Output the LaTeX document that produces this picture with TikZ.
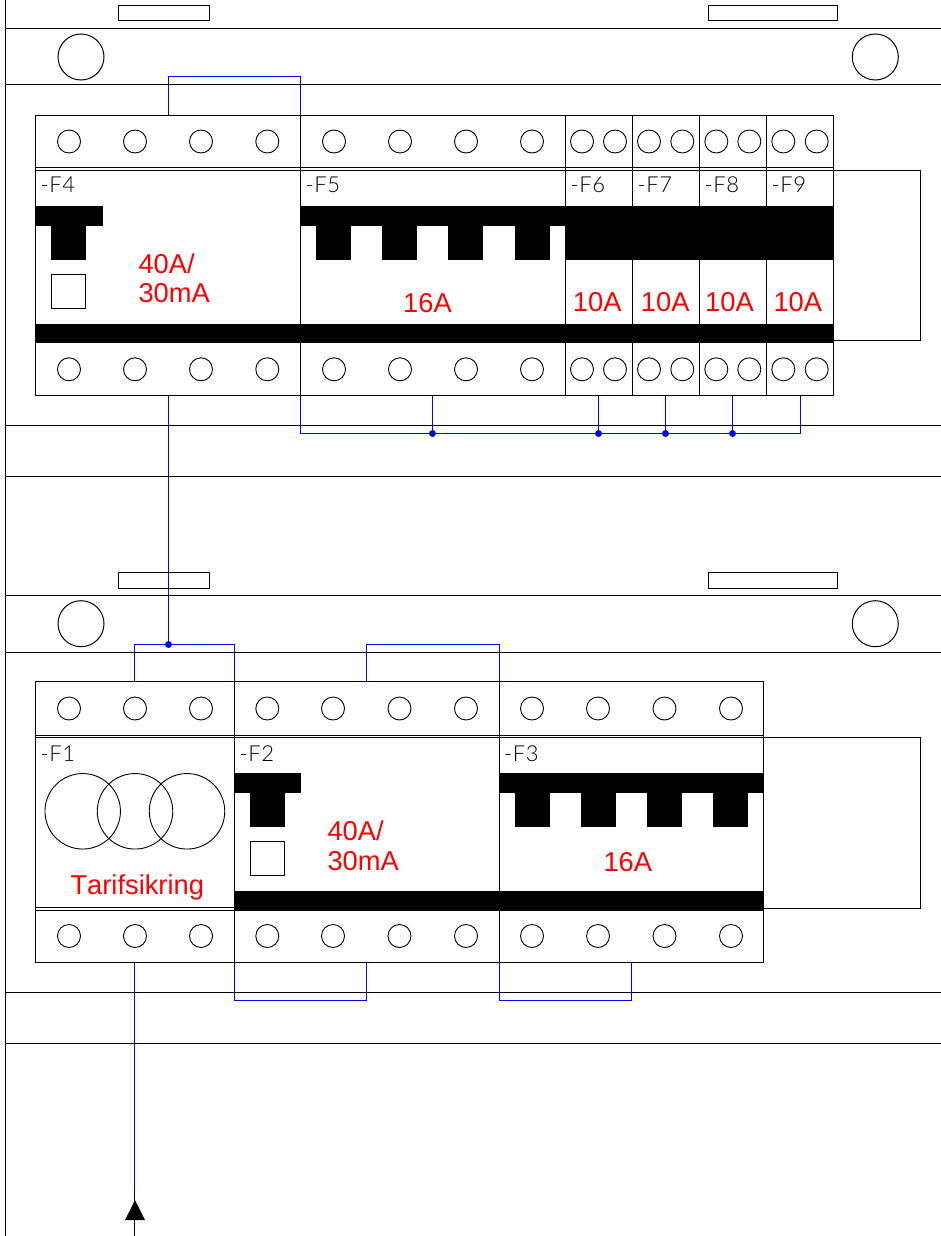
\documentclass[tikz,border=0pt]{standalone}
\usepackage{fontspec}
\setmainfont[Kerning=Off]{Liberation Sans}
\newfontfamily\cadfont[UprightFont=* Light,LetterSpace=3]{Lato}
\begin{document}
\begin{tikzpicture}[x=1pt,y=-1pt,line width=1pt,
  rail/.style={draw=black,line width=1pt},
  term/.style={draw=black,line width=0.9pt,circle,inner sep=0pt,minimum size=23pt},
  big/.style={draw=black,line width=1pt,circle,inner sep=0pt,minimum size=46pt},
  ring/.style={draw=black,line width=0.9pt,circle,inner sep=0pt,minimum size=75.5pt},
  wire/.style={draw=blue,line width=1pt},
  jun/.style={fill=blue,draw=none,circle,inner sep=0pt,minimum size=7pt},
  redt/.style={text=red,font=\fontsize{27.3}{27.3}\selectfont,anchor=base west,inner sep=0pt},
  tag/.style={text=black,font=\fontsize{22}{22}\cadfont,anchor=base west,inner sep=0pt},
  module/.style={draw=black,line width=1pt,fill=none}]
\useasboundingbox (0,0) rectangle (941,1236);
\fill[white] (0,0) rectangle (941,1236);
% cabinet
\draw[rail] (5.5,-2) -- (5.5,1238);
\foreach \y in {28.5,84.5,425.5,476.5,595.5,652.5,992.5,1043.5} \draw[rail] (5.5,\y) -- (943,\y);
\foreach \y/\z in {5.5/21,572.5/588} {
  \draw[module] (118.5,\y) rectangle (209.5,\z);
  \draw[module] (708.5,\y) rectangle (837.5,\z);
}
\foreach \y/\n in {57/a,623.7/b} {
  \node[big] (bigL\n) at (81,\y) {};
  \node[big] (bigR\n) at (875.3,\y) {};
}
% ---------- upper row: black parts
\fill (35.5,205.7) rectangle (102.7,225.7);
\fill (51,225) rectangle (86,260);
\fill (35.5,323.5) rectangle (834,342.7);
\fill (300.5,205.7) rectangle (566,225.7);
\foreach \x in {316,382,448,515} \fill (\x,225) rectangle (\x+35,260);
\fill (565,205.7) rectangle (834,260);
\draw[module] (51.5,274) rectangle (85.5,308);
% frames
\draw[module] (35.5,115.5) rectangle (833.5,395.5);
\foreach \x in {565.5,632.5,699.5,766.5} {
  \draw[rail,line width=1.3pt] (\x,115.5) -- (\x,205.7);
  \draw[rail,line width=1.3pt] (\x,260) -- (\x,395.5);
}
\draw[rail] (300.5,115.5) -- (300.5,395.5);
\draw[rail] (35.5,167.5) -- (833.5,167.5);
\draw[rail] (35.5,170.5) -- (833.5,170.5);
\draw[module] (833.5,170.5) -- (920.5,170.5) -- (920.5,340.5) -- (833.5,340.5);
\foreach \x/\n in {69/a,135/b,201/c,267.3/d,334/e,400/f,466/g,532/h,582/i,615/j,649/k,682.3/l,716.3/m,749.3/n,783.3/o,816.7/p} {
  \node[term] (ut\n) at (\x,141.5) {};
  \node[term] (ub\n) at (\x,369.3) {};
}
% ---------- lower row: black parts
\fill (234.5,773) rectangle (301,792.5);
\fill (250,792) rectangle (285,827);
\fill (234.5,890.7) rectangle (764,910);
\fill (499.5,773) rectangle (764,792.5);
\foreach \x in {515,581,647,713} \fill (\x,792) rectangle (\x+35,827);
\draw[module] (250,841) rectangle (284.5,875.5);
\draw[module] (35.5,681.5) rectangle (763.5,962.5);
\draw[rail] (234.5,681.5) -- (234.5,962.5);
\draw[rail] (499.5,681.5) -- (499.5,962.5);
\draw[rail] (35.5,735.5) -- (763.5,735.5);
\draw[rail] (35.5,737.5) -- (763.5,737.5);
\draw[rail] (35.5,907.5) -- (234.5,907.5);
\draw[rail] (35.5,910.5) -- (763.5,910.5);
\draw[module] (763.5,737.5) -- (920.5,737.5) -- (920.5,908) -- (763.5,908);
\foreach \x/\n in {69/a,135/b,201/c,267.3/d,333/e,399.5/f,466/g,532/h,598/i,664.5/j,731/k} {
  \node[term] (lt\n) at (\x,708.5) {};
  \node[term] (lb\n) at (\x,936) {};
}
\node[ring] (r1) at (82.7,811.3) {};
\node[ring] (r2) at (135,811.3) {};
\node[ring] (r3) at (187,811.3) {};
% ---------- texts
\node[tag] (tF4) at (40,192.7) {-F4};
\node[tag] (tF5) at (305,192.7) {-F5};
\node[tag] (tF6) at (570,192.7) {-F6};
\node[tag] (tF7) at (637,192.7) {-F7};
\node[tag] (tF8) at (704,192.7) {-F8};
\node[tag] (tF9) at (771,192.7) {-F9};
\node[tag] (tF1) at (40,761) {-F1};
\node[tag] (tF2) at (239,761) {-F2};
\node[tag] (tF3) at (503.5,761) {-F3};
\node[redt] (a1) at (138,273.3) {40A/};
\node[redt] (a2) at (138,302.7) {30mA};
\node[redt] (a3) at (402.7,312) {16A};
\node[redt] (a4) at (572.4,311.7) {10A};
\node[redt] (a5) at (640.4,311.7) {10A};
\node[redt] (a6) at (704.7,311.7) {10A};
\node[redt] (a7) at (773,311.7) {10A};
\node[redt] (a8) at (70,894.3) {Tarifsikring};
\node[redt] (a9) at (327,840.5) {40A/};
\node[redt] (a10) at (327,870) {30mA};
\node[redt] (a11) at (603,871) {16A};
% ---------- blue wiring
\coordinate (w1a) at (168.5,115.5); \coordinate (w1b) at (168.5,76.5);
\coordinate (w1c) at (300.5,76.5); \coordinate (w1d) at (300.5,115.5);
\draw[wire] (w1a) -- (w1b) -- (w1c) -- (w1d);
\coordinate (w2a) at (168.5,395.5); \node[jun] (j0) at (168.5,644.5) {};
\draw[wire] (w2a) -- (j0.center);
\coordinate (w3a) at (134.5,681.5); \coordinate (w3b) at (134.5,644.5);
\coordinate (w3c) at (234.5,644.5); \coordinate (w3d) at (234.5,681.5);
\draw[wire] (w3a) -- (w3b) -- (w3c) -- (w3d);
\coordinate (w4a) at (300.5,395.5); \coordinate (w4b) at (300.5,433.5);
\coordinate (w4c) at (800.5,433.5); \coordinate (w4d) at (800.5,395.5);
\draw[wire] (w4a) -- (w4b) -- (w4c) -- (w4d);
\foreach \x/\n in {432.5/1,598.5/2,665.5/3,732.5/4} {
  \coordinate (s\n) at (\x,395.5);
  \node[jun] (j\n) at (\x,433.5) {};
  \draw[wire] (s\n) -- (j\n.center);
}
\coordinate (w5a) at (366.5,681.5); \coordinate (w5b) at (366.5,644.5);
\coordinate (w5c) at (499.5,644.5); \coordinate (w5d) at (499.5,681.5);
\draw[wire] (w5a) -- (w5b) -- (w5c) -- (w5d);
\coordinate (w6a) at (234.5,962.5); \coordinate (w6b) at (234.5,1000.5);
\coordinate (w6c) at (366.5,1000.5); \coordinate (w6d) at (366.5,962.5);
\draw[wire] (w6a) -- (w6b) -- (w6c) -- (w6d);
\coordinate (w7a) at (499.5,962.5); \coordinate (w7b) at (499.5,1000.5);
\coordinate (w7c) at (631.5,1000.5); \coordinate (w7d) at (631.5,962.5);
\draw[wire] (w7a) -- (w7b) -- (w7c) -- (w7d);
\coordinate (f0) at (134.5,962.5); \coordinate (f1) at (134.5,1190); \coordinate (f2) at (134.5,1238);
\draw[wire] (f0) -- (f1);
\draw[rail] (f1) -- (f2);
\fill (135,1200) -- (145,1220) -- (125,1220) -- cycle;
\end{tikzpicture}
\end{document}
